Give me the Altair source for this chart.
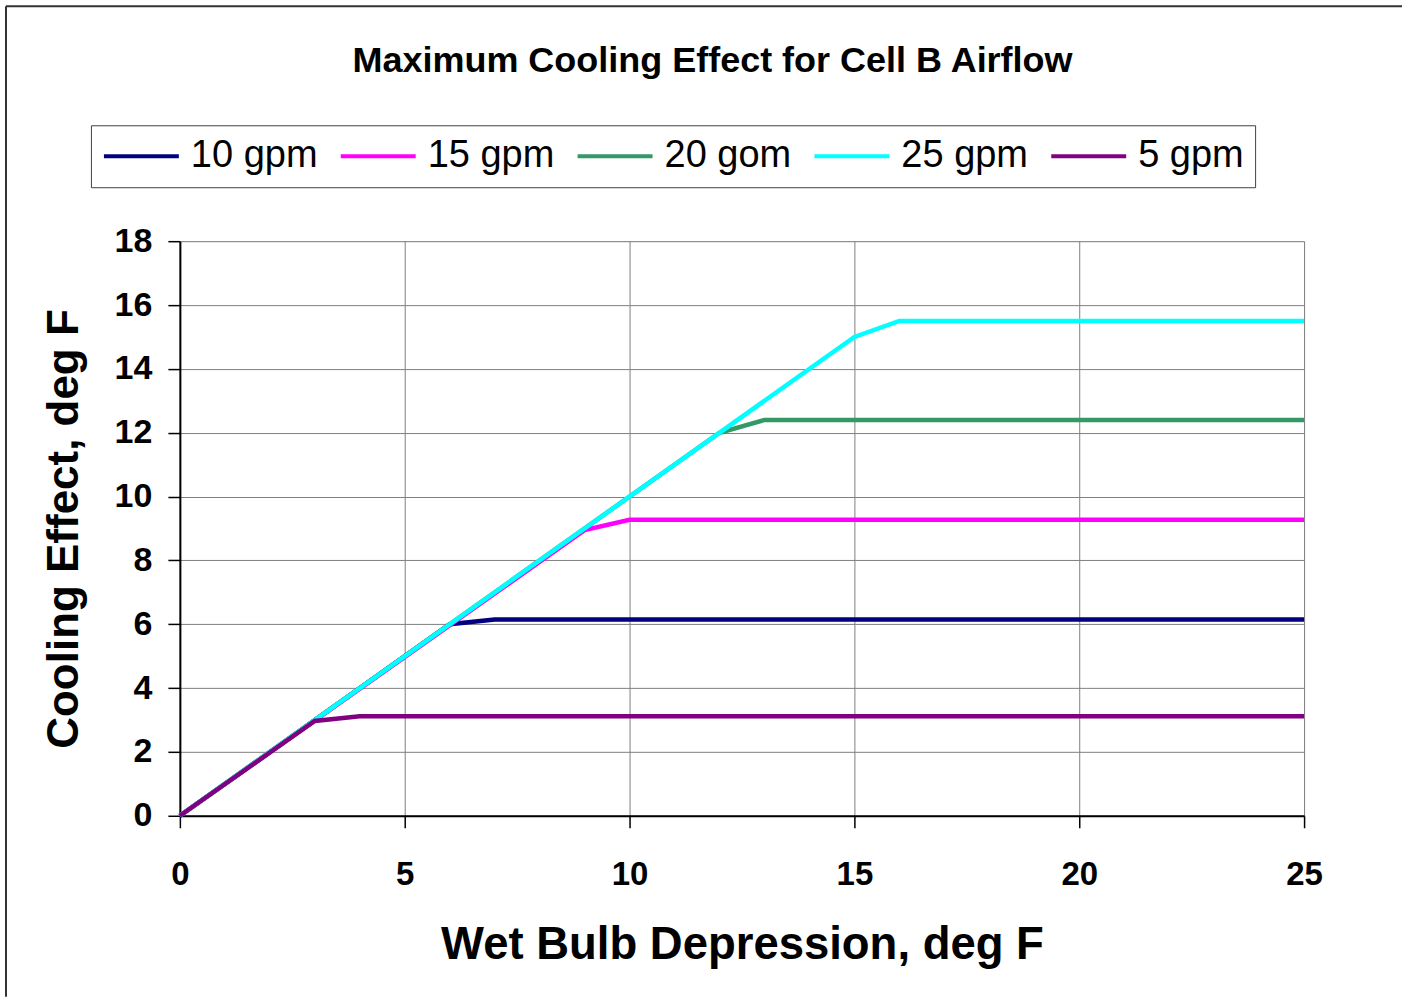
import altair as alt
import pandas as pd

FONT = "Liberation Sans"

chart_title = "Maximum Cooling Effect for Cell B Airflow"
x_title = "Wet Bulb Depression, deg F"
y_title = "Cooling Effect, deg F"

series_names = ["10 gpm", "15 gpm", "20 gom", "25 gpm", "5 gpm"]
series_colors = ["#000080", "#FF00FF", "#339966", "#00FFFF", "#800080"]

# wet bulb depression (deg F) and cooling effect (deg F) for each series
x_10 = [0, 6, 7, 25]
y_10 = [0, 6.0, 6.15, 6.15]
x_15 = [0, 9, 10, 25]
y_15 = [0, 8.95, 9.27, 9.27]
x_20 = [0, 12, 13, 25]
y_20 = [0, 12.0, 12.4, 12.4]
x_25 = [0, 15, 16, 25]
y_25 = [0, 15.0, 15.5, 15.5]
x_5 = [0, 3, 4, 25]
y_5 = [0, 2.97, 3.12, 3.12]

x_ticks = [0, 5, 10, 15, 20, 25]
y_ticks = [0, 2, 4, 6, 8, 10, 12, 14, 16, 18]

rows = []
for name, xs, ys in zip(series_names, [x_10, x_15, x_20, x_25, x_5],
                        [y_10, y_15, y_20, y_25, y_5]):
    for i, (a, b) in enumerate(zip(xs, ys)):
        rows.append({"series": name, "x": a, "y": b, "idx": i})
df = pd.DataFrame(rows)

W, H = 1125, 575

lines = alt.Chart(df).mark_line(strokeWidth=4.5, clip=False).encode(
    x=alt.X("x:Q", scale=alt.Scale(domain=[0, 25], nice=False, zero=True),
            axis=alt.Axis(values=x_ticks, title=x_title, format="d",
                          labelFontSize=33, labelFont=FONT, labelFontWeight="bold",
                          labelColor="black", labelPadding=31, labelFlush=False,
                          titleFontSize=45.5, titleFont=FONT, titleFontWeight="bold",
                          titleColor="black", titlePadding=31,
                          domainColor="black", domainWidth=2,
                          tickColor="black", tickWidth=1.5, tickSize=12,
                          gridColor="#808080", gridWidth=1, gridOpacity=1)),
    y=alt.Y("y:Q", scale=alt.Scale(domain=[0, 18], nice=False, zero=True),
            axis=alt.Axis(values=y_ticks, title=y_title, format="d",
                          labelFontSize=34, labelFont=FONT, labelFontWeight="bold",
                          labelColor="black", labelPadding=16, labelFlush=False,
                          titleFontSize=44, titleFont=FONT, titleFontWeight="bold",
                          titleColor="black", titlePadding=28,
                          domainColor="black", domainWidth=2,
                          tickColor="black", tickWidth=1.5, tickSize=12,
                          gridColor="#808080", gridWidth=1, gridOpacity=1)),
    color=alt.Color("series:N",
                    scale=alt.Scale(domain=series_names, range=series_colors),
                    legend=alt.Legend(orient="none", direction="horizontal",
                                      legendX=-89, legendY=-116,
                                      title=None, symbolType="stroke",
                                      symbolSize=5625, symbolStrokeWidth=4,
                                      clipHeight=40,
                                      labelFont=FONT, labelFontSize=38,
                                      labelColor="black", labelOffset=10,
                                      columnPadding=21, padding=11,
                                      strokeColor="#404040", fillColor="white",
                                      labelLimit=400)),
    order=alt.Order("idx:Q"),
)

title_df = pd.DataFrame({"t": [chart_title]})
title_mark = alt.Chart(title_df).mark_text(
    font=FONT, fontSize=36, fontWeight="bold", color="black",
    align="center", baseline="alphabetic"
).encode(text="t:N", x=alt.value(533), y=alt.value(-169))

frame_df = pd.DataFrame({"k": [0]})
frame_top = alt.Chart(frame_df).mark_rule(color="#333333", strokeWidth=2).encode(
    x=alt.value(-174), x2=alt.value(1223), y=alt.value(-235))
frame_left = alt.Chart(frame_df).mark_rule(color="#333333", strokeWidth=2).encode(
    x=alt.value(-174), y=alt.value(-235), y2=alt.value(756))

chart = alt.layer(frame_top, frame_left, title_mark, lines).properties(
    width=W, height=H
).configure_view(stroke="#808080", strokeWidth=2).configure(background="white")

chart.save("out.html", embed_options={"renderer": "svg", "actions": False})
